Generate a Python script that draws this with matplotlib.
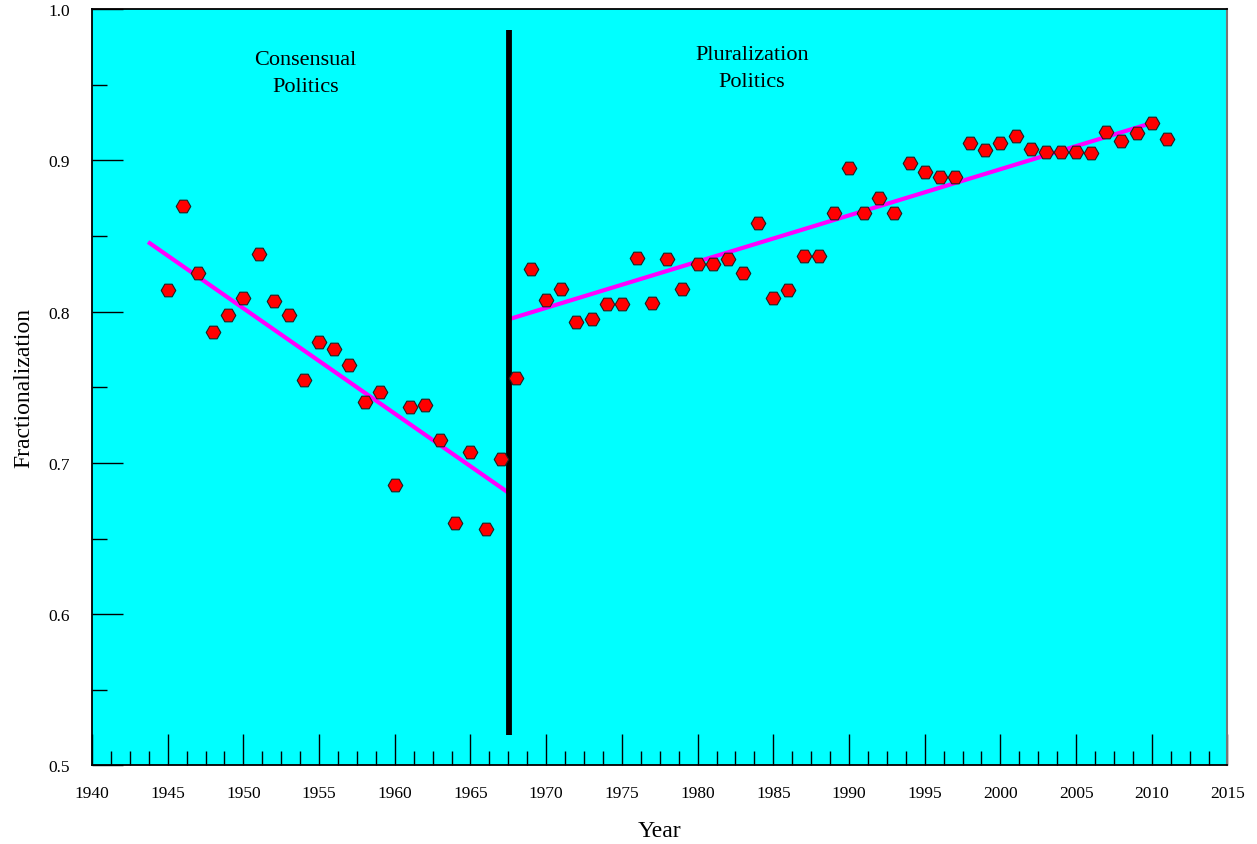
import matplotlib
matplotlib.use("Agg")
import matplotlib.pyplot as plt
from matplotlib.ticker import MultipleLocator, FormatStrFormatter

# Annual party-system fractionalization
years = list(range(1945, 2012))
frac = [
    0.814, 0.870, 0.8255, 0.7865, 0.798, 0.809, 0.838, 0.807, 0.798, 0.755,
    0.780, 0.775, 0.765, 0.740, 0.747, 0.6854, 0.737, 0.738, 0.715, 0.660,
    0.707, 0.656, 0.7026, 0.756, 0.828, 0.8077, 0.815, 0.793, 0.795, 0.805,
    0.805, 0.8354, 0.806, 0.835, 0.815, 0.8315, 0.8315, 0.835, 0.8255, 0.8586,
    0.809, 0.814, 0.8367, 0.8367, 0.865, 0.895, 0.865, 0.875, 0.865, 0.898,
    0.892, 0.889, 0.889, 0.9114, 0.907, 0.9114, 0.916, 0.9075, 0.9055, 0.9055,
    0.9055, 0.905, 0.919, 0.913, 0.918, 0.9247, 0.914,
]

# Fitted trends for the two periods (endpoints)
trend1_x = [1943.7, 1967.55]
trend1_y = [0.846, 0.680]
trend2_x = [1967.55, 2010.45]
trend2_y = [0.795, 0.926]

# Break between the two eras
break_year = 1967.55
break_span = [0.52, 0.986]

period_labels = ["Consensual\nPolitics", "Pluralization\nPolitics"]
period_pos = [(1954.1, 0.9577), (1983.6, 0.9608)]

serif = ["Liberation Serif", "DejaVu Serif"]

fig = plt.figure(figsize=(12.57, 8.45), dpi=100)
ax = fig.add_axes([0.0732, 0.0929, 0.9033, 0.8953])
ax.set_facecolor("#00FFFF")

ax.plot(trend1_x, trend1_y, color="#FF00FF", lw=3.0, solid_capstyle="butt", zorder=2)
ax.plot(trend2_x, trend2_y, color="#FF00FF", lw=3.0, solid_capstyle="butt", zorder=2)
ax.plot([break_year, break_year], break_span, color="black", lw=4.2,
        solid_capstyle="butt", zorder=3)
ax.plot(years, frac, linestyle="none", marker="H", markersize=10.5,
        markerfacecolor="#FF0000", markeredgecolor="#202020",
        markeredgewidth=0.8, zorder=4)

for txt, (x, y) in zip(period_labels, period_pos):
    ax.text(x, y, txt, ha="center", va="center", fontsize=16,
            family=serif, linespacing=1.55)

ax.set_xlim(1940, 2015)
ax.set_ylim(0.5, 1.0)
ax.xaxis.set_major_locator(MultipleLocator(5))
ax.xaxis.set_minor_locator(MultipleLocator(1.25))
ax.yaxis.set_major_locator(MultipleLocator(0.1))
ax.yaxis.set_minor_locator(MultipleLocator(0.05))
ax.yaxis.set_major_formatter(FormatStrFormatter("%.1f"))

ax.tick_params(axis="both", which="both", direction="in", top=False, right=False,
               colors="black", width=1.0)
ax.tick_params(axis="x", which="major", length=22, pad=14, labelsize=12.5)
ax.tick_params(axis="x", which="minor", length=10)
ax.tick_params(axis="y", which="major", length=22, pad=16, labelsize=12.5)
ax.tick_params(axis="y", which="minor", length=11)
for lab in ax.get_xticklabels() + ax.get_yticklabels():
    lab.set_family(serif)

for side in ["left", "bottom", "top"]:
    ax.spines[side].set_color("black")
    ax.spines[side].set_linewidth(1.3)
ax.spines["right"].set_color("#777777")
ax.spines["right"].set_linewidth(1.5)

ax.set_xlabel("Year", fontsize=17, family=serif, labelpad=14)
ax.set_ylabel("Fractionalization", fontsize=17, family=serif, labelpad=10)

fig.savefig("out.png", dpi=100)
